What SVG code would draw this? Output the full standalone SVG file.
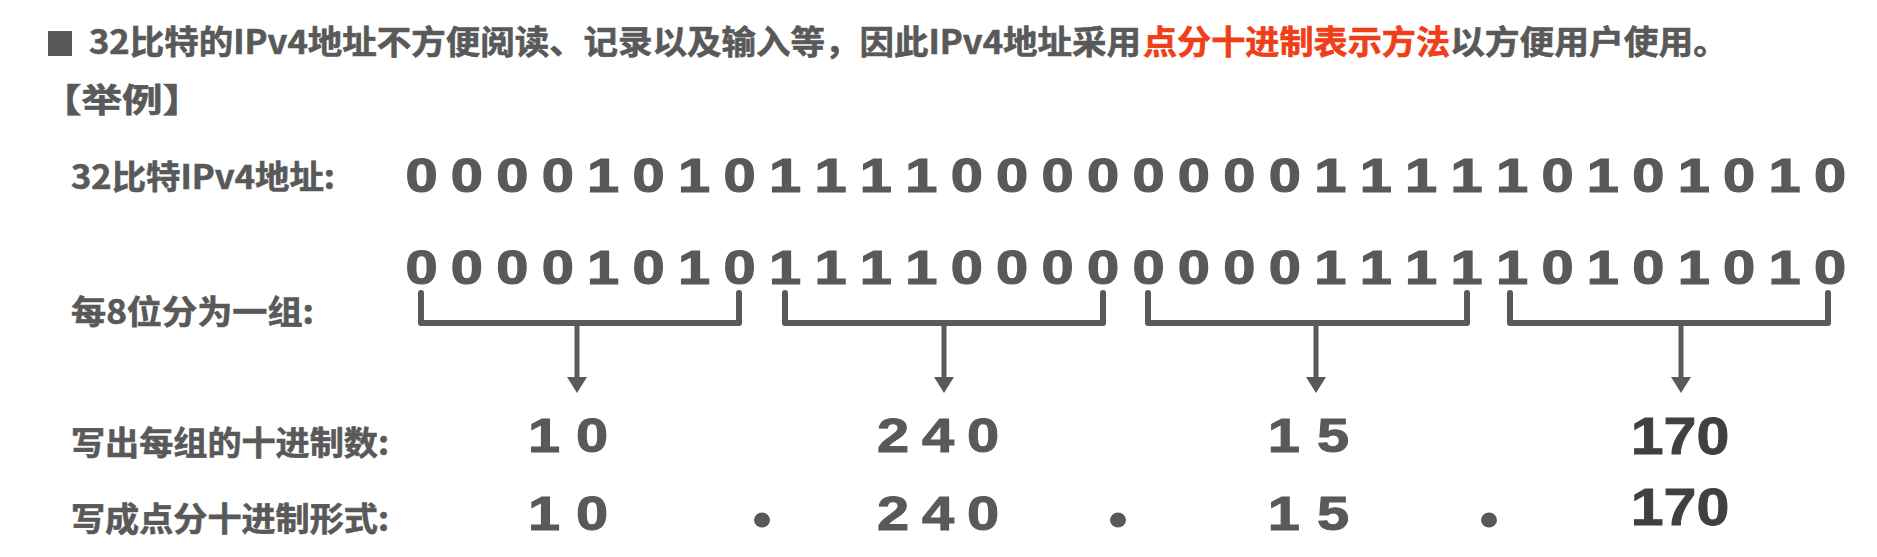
<svg xmlns="http://www.w3.org/2000/svg" width="1877" height="557" viewBox="0 0 1877 557">
<defs>
<style>
.cjk{font-family:"Noto Sans CJK SC","Noto Sans",sans-serif;font-weight:bold;fill:#595959;stroke:#595959;stroke-width:0.6}
.red{fill:#ef3e18;stroke:#ef3e18}
.bits{font-family:"Liberation Sans",Arial,sans-serif;font-weight:bold;font-size:49px;fill:#595959;stroke:#595959;stroke-width:1.2;text-anchor:middle}
.num{font-family:"Liberation Sans",Arial,sans-serif;font-weight:bold;font-size:49px;fill:#595959;stroke:#595959;stroke-width:1;text-anchor:middle}
.num2{font-family:"Liberation Sans",Arial,sans-serif;font-weight:bold;font-size:51px;fill:#404040;stroke:#404040;stroke-width:0.8;text-anchor:middle}
.br{fill:none;stroke:#595959;stroke-width:6;stroke-linecap:round;stroke-linejoin:round}
.stem{stroke:#595959;stroke-width:5}
</style>
<marker id="ah" markerUnits="userSpaceOnUse" viewBox="0 0 16 20" markerWidth="16" markerHeight="20" refX="3" refY="10" orient="auto">
<path d="M0,0 L16,10 L0,20 Z" fill="#595959"/>
</marker>
</defs>
<rect width="1877" height="557" fill="#ffffff"/>

<g id="title">
<rect x="48" y="31" width="24" height="25" fill="#595959"/>
<text class="cjk" x="89" y="54" font-size="33" textLength="1052" lengthAdjust="spacingAndGlyphs">32比特的IPv4地址不方便阅读、记录以及输入等，因此IPv4地址采用</text>
<text class="cjk red" x="1143" y="54" font-size="33" textLength="307" lengthAdjust="spacingAndGlyphs">点分十进制表示方法</text>
<text class="cjk" x="1450" y="54" font-size="33" textLength="278" lengthAdjust="spacingAndGlyphs">以方便用户使用。</text>
</g>

<g id="example">
<text class="cjk" x="41" y="112" font-size="33" textLength="162" lengthAdjust="spacingAndGlyphs">【举例】</text>
</g>

<g id="labels">
<text class="cjk" x="71" y="189" font-size="33" textLength="264" lengthAdjust="spacingAndGlyphs">32比特IPv4地址:</text>
<text class="cjk" x="71" y="324" font-size="33" textLength="243" lengthAdjust="spacingAndGlyphs">每8位分为一组:</text>
<text class="cjk" x="71" y="455" font-size="33" textLength="318" lengthAdjust="spacingAndGlyphs">写出每组的十进制数:</text>
<text class="cjk" x="71" y="531" font-size="33" textLength="318" lengthAdjust="spacingAndGlyphs">写成点分十进制形式:</text>
</g>

<g id="bits32" transform="scale(1.18,1)">
<text class="bits" y="192" x="357.2 395.7 434.2 472.7 511.2 549.7 588.2 626.8 665.3 703.8 742.3 780.8 819.3 857.8 896.3 934.8 973.3 1011.8 1050.3 1088.9 1127.4 1165.9 1204.4 1242.9 1281.4 1319.9 1358.4 1396.9 1435.4 1473.9 1512.4 1551.0">00001010111100000000111110101010</text>
</g>

<g id="bits-grouped" transform="scale(1.18,1)">
<text class="bits" y="284" x="357.2 395.7 434.2 472.7 511.2 549.7 588.2 626.8 665.3 703.8 742.3 780.8 819.3 857.8 896.3 934.8 973.3 1011.8 1050.3 1088.9 1127.4 1165.9 1204.4 1242.9 1281.4 1319.9 1358.4 1396.9 1435.4 1473.9 1512.4 1551.0">00001010111100000000111110101010</text>
</g>

<g id="connectors">
<path class="br" d="M421,293 V323 H739 V293"/>
<path class="br" d="M785,293 V323 H1103 V293"/>
<path class="br" d="M1148,293 V323 H1467 V293"/>
<path class="br" d="M1510,293 V323 H1828 V293"/>
<line class="stem" x1="577" y1="323" x2="577" y2="380" marker-end="url(#ah)"/>
<line class="stem" x1="944" y1="323" x2="944" y2="380" marker-end="url(#ah)"/>
<line class="stem" x1="1316" y1="323" x2="1316" y2="380" marker-end="url(#ah)"/>
<line class="stem" x1="1681" y1="323" x2="1681" y2="380" marker-end="url(#ah)"/>
</g>

<g id="decimal" transform="scale(1.18,1)">
<text class="num" y="452" x="461.0 501.7">10</text>
<text class="num" y="452" x="756.8 794.9 833.1">240</text>
<text class="num" y="452" x="1088.1 1129.7">15</text>
</g>
<g id="decimal-170" transform="scale(1.16,1)">
<text class="num2" x="1448.3" y="454">170</text>
</g>

<g id="dotted" transform="scale(1.18,1)">
<text class="num" y="530" x="461.0 501.7">10</text>
<text class="num" y="530" x="756.8 794.9 833.1">240</text>
<text class="num" y="530" x="1088.1 1129.7">15</text>
</g>
<g id="dotted-170" transform="scale(1.16,1)">
<text class="num2" x="1448.3" y="525">170</text>
</g>
<g id="dots" fill="#595959">
<ellipse cx="762" cy="520" rx="8" ry="7.5"/>
<ellipse cx="1118" cy="520" rx="8" ry="7.5"/>
<ellipse cx="1489" cy="520" rx="8" ry="7.5"/>
</g>
</svg>
